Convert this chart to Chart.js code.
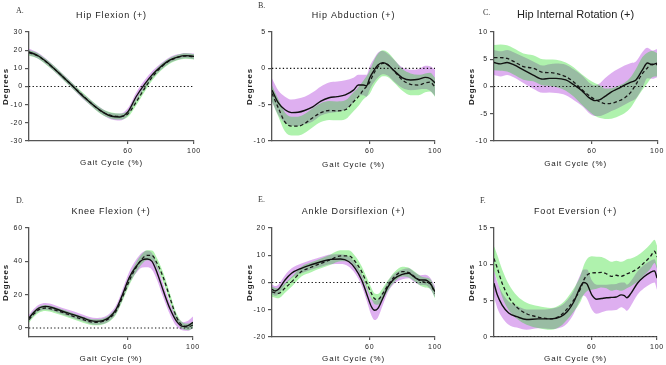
<!DOCTYPE html>
<html><head><meta charset="utf-8">
<script src="https://cdn.jsdelivr.net/npm/chart.js@4/dist/chart.umd.min.js"></script>
<style>
html,body{margin:0;padding:0;background:#fff;width:666px;height:365px;overflow:hidden;position:relative}
canvas{position:absolute}
</style></head><body>
<canvas id="cA" width="222" height="180" style="left:0px;top:0px"></canvas>
<canvas id="cB" width="222" height="180" style="left:222px;top:0px"></canvas>
<canvas id="cC" width="222" height="180" style="left:444px;top:0px"></canvas>
<canvas id="cD" width="222" height="185" style="left:0px;top:180px"></canvas>
<canvas id="cE" width="222" height="185" style="left:222px;top:180px"></canvas>
<canvas id="cF" width="222" height="185" style="left:444px;top:180px"></canvas>
<script>
// ---------- DATA ----------
const titles = ['Hip Flexion (+)', 'Hip Abduction (+)', 'Hip Internal Rotation (+)', 'Knee Flexion (+)', 'Ankle Dorsiflexion (+)', 'Foot Eversion (+)'];
const letters = ['A.', 'B.', 'C.', 'D.', 'E.', 'F.'];
const xTitle = 'Gait Cycle (%)';
const yTitle = 'Degrees';
const xTicks = [60, 100];

// A. Hip Flexion
const xA = [0,5,10,15,20,25,30,35,40,45,50,55,60,65,70,75,80,85,90,95,100];
const solidA = [19,17.2,14,10,5.8,1.5,-3,-7.2,-11,-14.2,-16.4,-16.8,-13.8,-5.5,1.2,6.8,11,14.4,16.2,17,16.6];
const solidSdA = [1.8,1.6,1.5,1.5,1.5,1.5,1.5,1.5,1.5,1.6,1.8,1.9,2,2.2,2.2,2,1.8,1.6,1.5,1.5,1.6];
const dashedA = [18.5,17,13.8,10,5.8,1.5,-2.8,-7,-11,-14.3,-16,-16.5,-15,-8.5,-1.2,5.5,10.5,14,16,16.8,16.3];
const dashedSdA = [1.6,1.5,1.5,1.5,1.5,1.5,1.5,1.6,1.7,1.7,1.7,1.7,1.7,1.8,1.8,1.8,1.7,1.6,1.5,1.5,1.5];
const yTicksA = [-30,-20,-10,0,10,20,30];

// B. Hip Abduction
const xB = [0,4,8,12,16,20,25,30,35,40,45,50,53,56,58,60,62,65,68,71,75,80,85,90,94,97,100];
const solidB = [-3.0,-4.8,-5.7,-6.1,-6.05,-5.8,-5.3,-4.5,-4.05,-3.9,-3.65,-3.0,-2.3,-2.3,-2.4,-1.3,-0.5,0.45,0.78,0.5,-0.35,-1.3,-1.6,-1.5,-1.25,-1.4,-2.0];
const solidSdB = [1.6,1.7,1.8,1.8,1.9,1.9,2.0,2.0,2.1,2.1,2.0,1.7,1.4,1.4,1.5,1.6,1.6,1.7,1.6,1.5,1.5,1.4,1.4,1.4,1.6,1.7,1.8];
const dashedB = [-3.45,-5.5,-7.4,-7.95,-7.95,-7.6,-6.8,-6.1,-5.8,-5.85,-5.7,-4.6,-3.9,-3.0,-2.5,-1.9,-0.9,0.2,0.7,0.5,-0.4,-1.6,-2.2,-2.3,-2.0,-1.9,-2.6];
const dashedSdB = [1.1,1.2,1.3,1.3,1.3,1.3,1.3,1.3,1.3,1.3,1.3,1.3,1.3,1.3,1.4,1.6,1.7,1.8,1.8,1.7,1.6,1.5,1.5,1.4,1.3,1.3,1.3];
const yTicksB = [-10,-5,0,5];

// C. Hip Internal Rotation
const xC = [0,4,8,12,18,24,30,34,38,44,49,54,58,62,65,68,72,76,80,84,87,91,94,97,100];
const solidC = [4.4,4.15,4.4,4.0,3.05,2.1,1.35,1.5,1.5,1.2,0.3,-0.8,-2.0,-2.6,-2.4,-1.8,-1.0,-0.4,0.25,0.8,1.2,3.05,4.3,4.0,4.3];
const solidSdC = [2.3,2.3,2.3,2.3,2.4,2.5,2.5,2.6,2.7,2.8,2.8,2.8,2.8,2.8,3.0,3.3,3.5,3.6,3.6,3.5,3.4,3.3,2.8,2.6,2.6];
const dashedC = [5.3,5.3,5.15,4.6,3.65,3.35,2.6,2.55,2.4,1.8,0.8,-0.6,-1.6,-2.4,-2.8,-3.15,-3.1,-2.7,-2.1,-1.0,0.4,2.4,3.4,4.1,4.0];
const dashedSdC = [2.3,2.4,2.4,2.4,2.4,2.4,2.4,2.4,2.5,2.6,2.7,2.8,2.9,3.0,3.0,2.8,2.8,2.8,2.8,2.8,2.8,3.0,2.8,2.4,2.1];
const yTicksC = [-10,-5,0,5,10];

// D. Knee Flexion
const xD = [0,3,6,10,15,20,27,33,37,41,45,49,53,57,61,65,69,72,75,78,82,86,90,94,97,100];
const solidD = [6,9.5,12,13,12,10.2,8,6,4.6,4,4.4,6.4,11,20,30,36.5,40.8,41.4,40,33.5,22,11.5,4,1,1.4,3.4];
const solidSdD = [2,2,2,2,2,2,2,2,2,2,2,2.2,2.5,3,3.5,4,4.5,5,5,4.5,4,3.5,3,2.5,3,3.5];
const dashedD = [5,8.5,11,12,11,9.5,7,5,3.8,3.4,3.9,5.8,10,18.5,28,35.8,41.5,43.6,43.5,39,30,18,6.5,1.2,0.7,1.8];
const dashedSdD = [1.8,1.8,1.8,1.8,1.8,1.8,1.8,1.8,1.8,1.8,1.8,1.9,2,2.3,2.6,2.9,3,3,3,3,2.8,2.5,2.2,2,2,2];
const yTicksD = [0,20,40,60];

// E. Ankle Dorsiflexion
const xE = [0,2,4,8,12,18,24,30,36,42,47,51,55,58,61,63,65,68,71,75,80,84,87,91,94,97,100];
const solidE = [-2.5,-3.1,-2.5,0.9,3.4,5.2,6.5,7.6,8.5,8.6,7.7,5.2,0.9,-4,-8.9,-10.2,-9.5,-5.8,-1.7,1.4,3.0,3.4,2.1,0.9,0.9,-0.3,-3.4];
const solidSdE = [1.8,1.8,1.8,1.8,1.8,1.8,1.8,1.8,1.8,1.8,1.8,1.9,2.1,2.5,3.2,3.6,3.3,2.5,2.0,1.8,1.8,1.8,1.8,1.8,1.9,2.0,2.0];
const dashedE = [-3.4,-3.8,-4.0,-2.0,0.2,4.0,5.6,7.0,8.4,9.8,9.8,7.7,4.0,0,-4.0,-6.0,-6.2,-4.0,-1.2,2.0,4.0,3.6,2.4,0.6,0,-0.5,-4.0];
const dashedSdE = [1.8,1.8,1.8,1.8,1.8,1.8,1.8,1.8,1.9,2.0,2.0,2.0,2.0,2.0,2.0,2.0,2.0,2.0,1.9,1.8,1.8,1.8,1.8,1.8,1.8,1.8,1.8];
const yTicksE = [-20,-10,0,10,20];

// F. Foot Eversion
const xF = [0,2,5,9,14,20,27,35,41,45,49,53,55,57,60,63,66,69,72,75,78,80,81.5,84,88,92,96,98.5,100];
const solidF = [7.4,5.8,4.4,3.3,2.8,2.4,2.5,2.5,2.8,3.5,4.85,6.9,7.5,7.3,5.8,5.2,5.3,5.4,5.45,5.5,5.8,5.7,5.4,6.0,7.4,8.3,8.9,9.1,8.1];
const solidSdF = [1.8,1.8,1.7,1.6,1.5,1.4,1.3,1.4,1.5,1.6,1.6,1.7,1.8,2.0,2.0,2.0,1.9,1.8,1.8,1.8,1.7,1.8,1.8,1.7,1.6,1.6,1.6,1.6,1.6];
const dashedF = [10.8,9.5,7.4,5.5,4.1,3.2,2.75,2.5,3.0,3.9,5.1,6.6,7.8,8.5,8.8,8.85,8.9,8.7,8.35,8.5,8.35,8.5,8.7,8.9,9.4,10.2,11.1,11.8,11.0];
const dashedSdF = [1.7,1.8,1.9,1.8,1.6,1.5,1.5,1.5,1.5,1.5,1.6,1.8,2.0,2.2,2.3,2.2,2.1,2.0,2.0,2.0,2.0,2.0,2.0,1.9,1.8,1.7,1.7,1.6,1.6];
const yTicksF = [0,5,10,15];

// ---------- STYLE / LAYOUT ----------
const PURPLE = 'rgba(152,5,208,0.32)';
const GREEN = 'rgba(5,214,0,0.32)';
const AXIS = '#555';
const TXT = '#222';
const FONT = 'Liberation Sans';

const panels = [
  {id:'cA', x:xA, s:solidA, ss:solidSdA, d:dashedA, ds:dashedSdA, yt:yTicksA, min:-30, max:30,
   cx:0, cy:0, cw:222, ch:180, l:29, t:32, r:194, b:141, degX:6, gaitY:163, titleY:16, tsize:9, lx:16, ly:11},
  {id:'cB', x:xB, s:solidB, ss:solidSdB, d:dashedB, ds:dashedSdB, yt:yTicksB, min:-10, max:5,
   cx:222, cy:0, cw:222, ch:180, l:272, t:32, r:435, b:141, degX:250, gaitY:165, titleY:16, tsize:9, lx:258, ly:6},
  {id:'cC', x:xC, s:solidC, ss:solidSdC, d:dashedC, ds:dashedSdC, yt:yTicksC, min:-10, max:10,
   cx:444, cy:0, cw:222, ch:180, l:494, t:32, r:658, b:141, degX:472, gaitY:164, titleY:15, tsize:11, lx:483, ly:13},
  {id:'cD', x:xD, s:solidD, ss:solidSdD, d:dashedD, ds:dashedSdD, yt:yTicksD, min:-5.4, max:60,
   cx:0, cy:180, cw:222, ch:185, l:29, t:228, r:193, b:337, degX:6, gaitY:359, titleY:212, tsize:9, lx:16, ly:201},
  {id:'cE', x:xE, s:solidE, ss:solidSdE, d:dashedE, ds:dashedSdE, yt:yTicksE, min:-20, max:20,
   cx:222, cy:180, cw:222, ch:185, l:272, t:228, r:435, b:337, degX:250, gaitY:359, titleY:212, tsize:9, lx:258, ly:200},
  {id:'cF', x:xF, s:solidF, ss:solidSdF, d:dashedF, ds:dashedSdF, yt:yTicksF, min:0, max:15,
   cx:444, cy:180, cw:222, ch:185, l:494, t:228, r:657, b:337, degX:472, gaitY:359, titleY:212, tsize:9, lx:480, ly:201}
];

const pts = (xs, ys) => xs.map((x, i) => ({x, y: ys[i]}));
const band = (xs, m, s, sign) => xs.map((x, i) => ({x, y: m[i] + sign * s[i]}));

const textPlugin = {
  id: 'paneltext',
  beforeDraw(c) { c.ctx.letterSpacing = '0.8px'; },
  afterDraw(c, args, o) {
    const ctx = c.ctx;
    ctx.save();
    ctx.letterSpacing = '0px';
    ctx.font = '8px "Liberation Serif"';
    ctx.fillStyle = '#333';
    ctx.textBaseline = 'middle';
    ctx.textAlign = 'left';
    ctx.fillText(o.letter, o.lx, o.ly);
    ctx.restore();
  }
};

panels.forEach((p, idx) => {
  const tLh = p.tsize * 1.2;
  const pt = p.titleY - p.cy - tLh / 2;
  const pb = (p.t - p.cy) - pt - tLh;
  const axLh = 8 * 1.2;
  const padL = p.degX - p.cx - axLh / 2;
  const yW = p.l - p.cx - padL;
  const padR = p.cx + p.cw - p.r;
  const xBottom = p.gaitY + axLh / 2;
  const xH = xBottom - p.b;
  const padB = p.cy + p.ch - xBottom;
  const lineBase = {pointRadius: 0, pointHoverRadius: 0, cubicInterpolationMode: 'monotone'};

  // Chart.js paints the first dataset last (on top): lines first, then green band, then purple band.
  const chart = new Chart(document.getElementById(p.id), {
    type: 'line',
    data: {
      datasets: [
        {...lineBase, data: pts(p.x, p.s), borderColor: '#111', borderWidth: 1.4, fill: false},
        {...lineBase, data: pts(p.x, p.d), borderColor: '#1a1a1a', borderWidth: 1.3, borderDash: [3.5, 2.5], fill: false},
        {pointRadius: 0, data: [{x: 0, y: 0}, {x: 100, y: 0}], borderColor: '#111', borderWidth: 1.2, borderDash: [1.3, 2.3], fill: false},
        {...lineBase, data: band(p.x, p.d, p.ds, 1), borderWidth: 0, borderColor: 'rgba(0,0,0,0)', backgroundColor: GREEN, fill: '+1'},
        {...lineBase, data: band(p.x, p.d, p.ds, -1), borderWidth: 0, borderColor: 'rgba(0,0,0,0)', fill: false},
        {...lineBase, data: band(p.x, p.s, p.ss, 1), borderWidth: 0, borderColor: 'rgba(0,0,0,0)', backgroundColor: PURPLE, fill: '+1'},
        {...lineBase, data: band(p.x, p.s, p.ss, -1), borderWidth: 0, borderColor: 'rgba(0,0,0,0)', fill: false}
      ]
    },
    options: {
      responsive: false,
      animation: false,
      events: [],
      layout: {padding: {left: padL, right: padR, top: 0, bottom: padB}},
      plugins: {
        legend: {display: false},
        tooltip: {enabled: false},
        title: {display: true, text: titles[idx], fullSize: false, color: TXT,
                font: {family: FONT, size: p.tsize, weight: 'normal', lineHeight: 1.2},
                padding: {top: pt, bottom: pb}},
        paneltext: {letter: letters[idx], lx: p.lx - p.cx, ly: p.ly - p.cy}
      },
      scales: {
        x: {
          type: 'linear', min: 0, max: 100,
          afterBuildTicks: s => { s.ticks = xTicks.map(v => ({value: v})); },
          afterFit: s => { s.height = xH; },
          grid: {display: true, drawOnChartArea: false, drawTicks: true, tickLength: 3, color: AXIS, lineWidth: 1.2},
          border: {display: true, color: AXIS, width: 1.3},
          ticks: {font: {family: FONT, size: 7}, color: TXT, padding: 3, maxRotation: 0, autoSkip: false},
          title: {display: true, text: xTitle, color: TXT, font: {family: FONT, size: 8, lineHeight: 1.2}, padding: 0}
        },
        y: {
          type: 'linear', min: p.min, max: p.max,
          afterBuildTicks: s => { s.ticks = p.yt.map(v => ({value: v})); },
          afterFit: s => { s.width = yW; },
          grid: {display: true, drawOnChartArea: false, drawTicks: true, tickLength: 4, color: AXIS, lineWidth: 1.2},
          border: {display: true, color: AXIS, width: 1.3},
          ticks: {font: {family: FONT, size: 7}, color: TXT, padding: 2},
          title: {display: true, text: yTitle, color: TXT, font: {family: FONT, size: 8, weight: 'bold', lineHeight: 1.2}, padding: 0}
        }
      }
    },
    plugins: [textPlugin]
  });

  if (p.tsize !== 9 && chart.titleBlock) {
    const tb = chart.titleBlock;
    const orig = tb.draw.bind(tb);
    tb.draw = function(area) {
      const ctx = chart.ctx;
      const ls = ctx.letterSpacing;
      ctx.letterSpacing = '0px';
      orig(area);
      ctx.letterSpacing = ls;
    };
    chart.draw();
  }
});
</script>
</body></html>
